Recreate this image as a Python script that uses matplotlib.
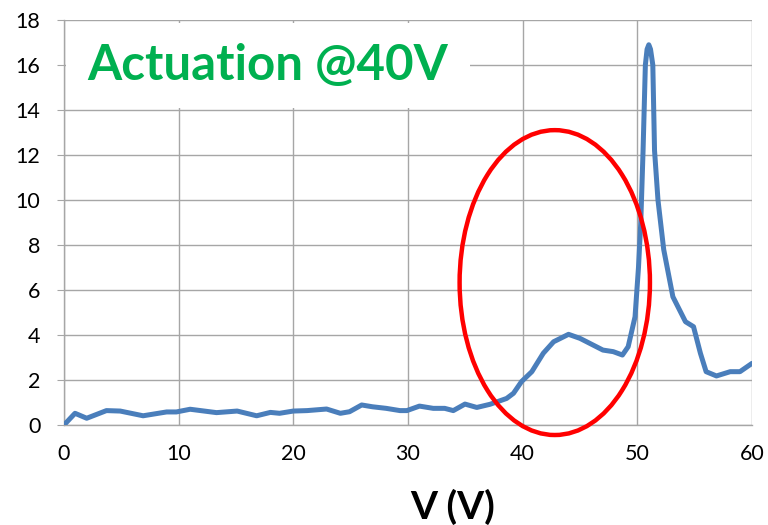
import matplotlib.pyplot as plt
from matplotlib.patches import Ellipse, Rectangle

plt.rcParams['font.family'] = ['Lato', 'DejaVu Sans']

volts = [0, 0.96, 1.98, 3.7, 4.9, 6.9, 8.95, 9.8, 11.0, 13.3, 15.1, 16.8, 18.0,
         18.8, 20.0, 21.2, 22.9, 24.1, 24.9, 25.96, 26.9, 28.1, 29.3, 29.9, 31.0,
         32.2, 33.2, 33.95, 34.97, 36.0, 37.15, 38.6, 39.2, 39.9, 40.8, 41.8, 42.7,
         44.0, 45.0, 47.0, 47.9, 48.7, 49.2, 49.8, 50.1, 50.3, 50.5, 50.7, 50.85,
         51.0, 51.15, 51.35, 51.5, 51.8, 52.3, 53.1, 54.2, 54.9, 55.5, 56.0, 56.9,
         58.1, 58.95, 60.0]
signal = [0, 0.52, 0.3, 0.64, 0.62, 0.41, 0.58, 0.58, 0.7, 0.55, 0.62, 0.41, 0.56,
          0.52, 0.62, 0.64, 0.71, 0.52, 0.59, 0.89, 0.81, 0.74, 0.64, 0.64, 0.84,
          0.74, 0.74, 0.64, 0.93, 0.78, 0.92, 1.18, 1.41, 1.93, 2.37, 3.19, 3.70,
          4.03, 3.85, 3.33, 3.26, 3.11, 3.48, 4.81, 7.0, 9.0, 12.2, 16.0, 16.7,
          16.9, 16.7, 16.0, 12.2, 10.0, 7.8, 5.7, 4.59, 4.37, 3.19, 2.37, 2.18,
          2.37, 2.37, 2.74]

x_ticks = [0, 10, 20, 30, 40, 50, 60]
y_ticks = [0, 2, 4, 6, 8, 10, 12, 14, 16, 18]

# highlighted region (center, width, height)
circle_center = (42.8, 6.33)
circle_w, circle_h = 16.6, 13.55

fig = plt.figure(figsize=(7.68, 5.25), dpi=100)
ax = fig.add_axes([64 / 768, 1 - 425 / 525, 688 / 768, 405 / 525])

grid_c = '#a6a6a6'
ax.set_xlim(0, 60)
ax.set_ylim(0, 18)
ax.set_xticks(x_ticks)
ax.set_yticks(y_ticks)
ax.grid(True, color=grid_c, lw=1.0)
ax.set_axisbelow(True)
for side in ['top', 'right']:
    ax.spines[side].set_visible(False)
for side in ['left', 'bottom']:
    ax.spines[side].set_color(grid_c)
    ax.spines[side].set_linewidth(1.0)
ax.tick_params(axis='y', length=5, color=grid_c, labelsize=15.5, pad=12)
ax.tick_params(axis='x', length=0, labelsize=15.5, pad=14)

# white box behind title text
ax.add_patch(Rectangle((0.003, 0.783), 0.587, 0.21, transform=ax.transAxes,
                       facecolor='white', edgecolor='none', zorder=1.5))
ax.text(2.0, 16.0, 'Actuation @40V', color='#00b050', fontsize=35.5,
        fontweight='bold', va='center', ha='left', zorder=2)

ax.plot(volts, signal, color='#4a7ebb', lw=3.6, solid_joinstyle='round',
        solid_capstyle='round', zorder=3)

ax.add_patch(Ellipse(circle_center, circle_w, circle_h, fill=False,
                     edgecolor='#ff0000', lw=3.2, clip_on=False, zorder=4))

fig.text(453 / 768, 1 - 507 / 525, 'V (V)', fontsize=28, fontweight='bold',
         ha='center', va='center')

fig.savefig('out.png', dpi=100)
